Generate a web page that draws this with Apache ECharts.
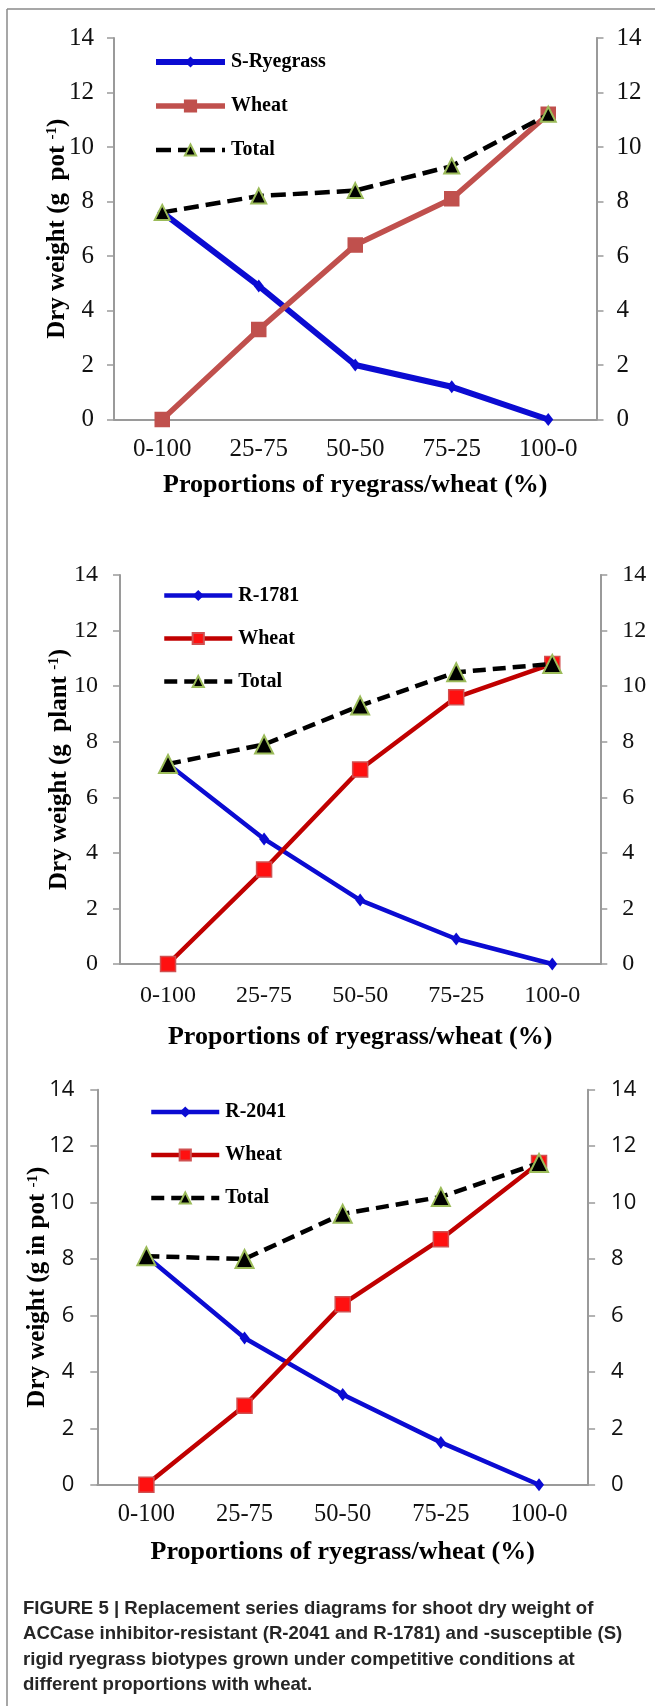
<!DOCTYPE html>
<html>
<head>
<meta charset="utf-8">
<script src="https://cdn.jsdelivr.net/npm/echarts@6/dist/echarts.min.js"></script>
<style>
  html, body { margin: 0; padding: 0; background: #ffffff; }
  #chart { width: 655px; height: 1706px; }
</style>
</head>
<body>
<div id="chart"></div>
<script>
// Ryegrass/wheat proportions shared by all three panels
const categories = ['0-100', '25-75', '50-50', '75-25', '100-0'];
const yMin = 0, yMax = 14, yStep = 2;

// Panel 1: susceptible ryegrass (g pot-1)
const sRyegrass = [7.6, 4.9, 2.0, 1.2, 0];
const wheatS = [0, 3.3, 6.4, 8.1, 11.2];
const totalS = [7.6, 8.2, 8.4, 9.3, 11.2];

// Panel 2: resistant biotype R-1781 (g plant-1)
const r1781 = [7.2, 4.5, 2.3, 0.9, 0];
const wheat1781 = [0, 3.4, 7.0, 9.6, 10.8];
const total1781 = [7.2, 7.9, 9.3, 10.5, 10.8];

// Panel 3: resistant biotype R-2041 (g in pot-1)
const r2041 = [8.1, 5.2, 3.2, 1.5, 0];
const wheat2041 = [0, 2.8, 6.4, 8.7, 11.4];
const total2041 = [8.1, 8.0, 9.6, 10.2, 11.4];

const seriesNames = [
  ['S-Ryegrass', 'Wheat', 'Total'],
  ['R-1781', 'Wheat', 'Total'],
  ['R-2041', 'Wheat', 'Total']
];
const yTitles = [
  'Dry weight (g  pot {sup|-1})',
  'Dry weight (g  plant {sup|-1})',
  'Dry weight (g in pot {sup|-1})'
];
const xTitle = 'Proportions of ryegrass/wheat (%)';
const caption = [
  'FIGURE 5 | Replacement series diagrams for shoot dry weight of',
  'ACCase inhibitor-resistant (R-2041 and R-1781) and -susceptible (S)',
  'rigid ryegrass biotypes grown under competitive conditions at',
  'different proportions with wheat.'
];

const SERIF = '"Liberation Serif", "Times New Roman", serif';
const SANS = '"Liberation Sans", Arial, sans-serif';
const OPEN = '"Open Sans", "Noto Sans", sans-serif';
const AXIS_GREY = '#9a9a9a';

// Layout and styling of each panel
const panels = [
  {
    grid: { left: 114, top: 38, width: 482.5, height: 381.5 },
    legend: { left: 153, top: 52, gap: 24, w: 69 },
    yNameGap: 44, xNameGap: 53, catMargin: 17.5, labelMargin: 20,
    tickFont: SERIF, tickSize: 25, catSize: 25,
    values: [sRyegrass, wheatS, totalS],
    ryeColor: '#0b0bd2', wheatLine: '#c0504d', wheatFill: '#c0504d', wheatBorder: '#c0504d',
    widths: [6, 5.5, 4.5], dash: [15, 7],
    sizes: { diamond: [10, 13], square: 14, tri: 15 }
  },
  {
    grid: { left: 120, top: 575, width: 480.3, height: 389 },
    legend: { left: 162, top: 585.5, gap: 23, w: 68 },
    yNameGap: 48, xNameGap: 60, catMargin: 20, labelMargin: 22,
    tickFont: SERIF, tickSize: 24, catSize: 24,
    values: [r1781, wheat1781, total1781],
    ryeColor: '#0b0bd2', wheatLine: '#c00000', wheatFill: '#ff1010', wheatBorder: '#d05050',
    widths: [4.5, 4.5, 4.5], dash: [13, 7],
    sizes: { diamond: [10, 13], square: 15, tri: 18 }
  },
  {
    grid: { left: 97.3, top: 1089.7, width: 490.8, height: 395 },
    legend: { left: 149, top: 1102, gap: 23, w: 68 },
    yNameGap: 47, xNameGap: 55, catMargin: 17.5, labelMargin: 23,
    tickFont: OPEN, tickSize: 22, catSize: 24.5,
    values: [r2041, wheat2041, total2041],
    ryeColor: '#0b0bd2', wheatLine: '#c00000', wheatFill: '#ff1010', wheatBorder: '#d05050',
    widths: [4.5, 4.5, 4.5], dash: [13, 7],
    sizes: { diamond: [10, 13], square: 15, tri: 18 }
  }
];

// Series names must be unique across panels; the part after '#' is never shown
const key = (p, s) => seriesNames[p][s] + '#' + p;

const option = {
  animation: false,
  backgroundColor: '#ffffff',
  grid: [], xAxis: [], yAxis: [], legend: [], series: [],
  graphic: []
};

panels.forEach((pn, i) => {
  option.grid.push(Object.assign({ outerBoundsMode: 'none', containLabel: false }, pn.grid));

  option.xAxis.push({
    type: 'category', gridIndex: i, data: categories, boundaryGap: true,
    axisLine: { show: true, lineStyle: { color: AXIS_GREY, width: 2 } },
    axisTick: { show: false },
    splitLine: { show: false },
    axisLabel: { fontFamily: SERIF, fontSize: pn.catSize, color: '#111', margin: pn.catMargin },
    name: xTitle, nameLocation: 'middle', nameGap: pn.xNameGap, nameMoveOverlap: false,
    nameTextStyle: { fontFamily: SERIF, fontWeight: 'bold', fontSize: 26, color: '#000' }
  });

  const yBase = (pos) => ({
    type: 'value', gridIndex: i, position: pos, min: yMin, max: yMax, interval: yStep,
    axisLine: { show: true, onZero: false, lineStyle: { color: AXIS_GREY, width: 2 } },
    axisTick: { show: true, inside: false, length: 7, lineStyle: { color: AXIS_GREY, width: 1.5 } },
    splitLine: { show: false },
    axisLabel: { fontFamily: pn.tickFont, fontSize: pn.tickSize, color: '#111', margin: pn.labelMargin }
  });

  const left = yBase('left');
  left.name = yTitles[i];
  left.nameLocation = 'middle';
  left.nameRotate = 90;
  left.nameGap = pn.yNameGap;
  left.nameMoveOverlap = false;
  left.nameTextStyle = {
    fontFamily: SERIF, fontWeight: 'bold', fontSize: 25, color: '#000',
    rich: { sup: { fontFamily: SERIF, fontWeight: 'bold', fontSize: 15, color: '#000', verticalAlign: 'top', padding: [0, 0, 10, 0] } }
  };
  option.yAxis.push(left);
  option.yAxis.push(yBase('right'));

  option.legend.push({
    orient: 'vertical', left: pn.legend.left, top: pn.legend.top,
    itemWidth: pn.legend.w, itemHeight: 14, itemGap: pn.legend.gap, padding: 0,
    data: [key(i, 0), key(i, 1), key(i, 2)],
    formatter: (n) => n.split('#')[0],
    textStyle: { fontFamily: SERIF, fontWeight: 'bold', fontSize: 20, color: '#000', padding: [0, 0, 0, 1] },
    lineStyle: { width: 'inherit', type: 'inherit' },
    selectedMode: false
  });

  const common = { xAxisIndex: i, yAxisIndex: i * 2, type: 'line', smooth: false, z: 3 };
  option.series.push(Object.assign({}, common, {
    name: key(i, 0), data: pn.values[0],
    symbol: 'diamond', symbolSize: pn.sizes.diamond,
    lineStyle: { color: pn.ryeColor, width: pn.widths[0] },
    itemStyle: { color: pn.ryeColor, borderWidth: 0 }
  }));
  option.series.push(Object.assign({}, common, {
    name: key(i, 1), data: pn.values[1], z: 4,
    symbol: 'rect', symbolSize: pn.sizes.square,
    lineStyle: { color: pn.wheatLine, width: pn.widths[1] },
    itemStyle: { color: pn.wheatFill, borderColor: pn.wheatBorder, borderWidth: 1.5 }
  }));
  option.series.push(Object.assign({}, common, {
    name: key(i, 2), data: pn.values[2], z: 5,
    symbol: 'triangle', symbolSize: pn.sizes.tri,
    lineStyle: { color: '#000', width: pn.widths[2], type: pn.dash },
    itemStyle: { color: '#000', borderColor: '#9bbb59', borderWidth: 2 }
  }));
});

// Figure frame and caption
option.graphic = [
  { type: 'line', silent: true, shape: { x1: 7, y1: 9, x2: 655, y2: 9 }, style: { stroke: '#8a8a8a', lineWidth: 1.5 } },
  { type: 'line', silent: true, shape: { x1: 7, y1: 9, x2: 7, y2: 1706 }, style: { stroke: '#8a8a8a', lineWidth: 1.5 } },
  {
    type: 'text', silent: true, left: 23, top: 1596,
    style: {
      text: caption.join('\n'), fill: '#262626',
      fontFamily: SANS, fontWeight: 'bold', fontSize: 18.6, lineHeight: 25.5
    }
  }
];

const chart = echarts.init(document.getElementById('chart'), null, { renderer: 'canvas' });
chart.setOption(option);
</script>
</body>
</html>
